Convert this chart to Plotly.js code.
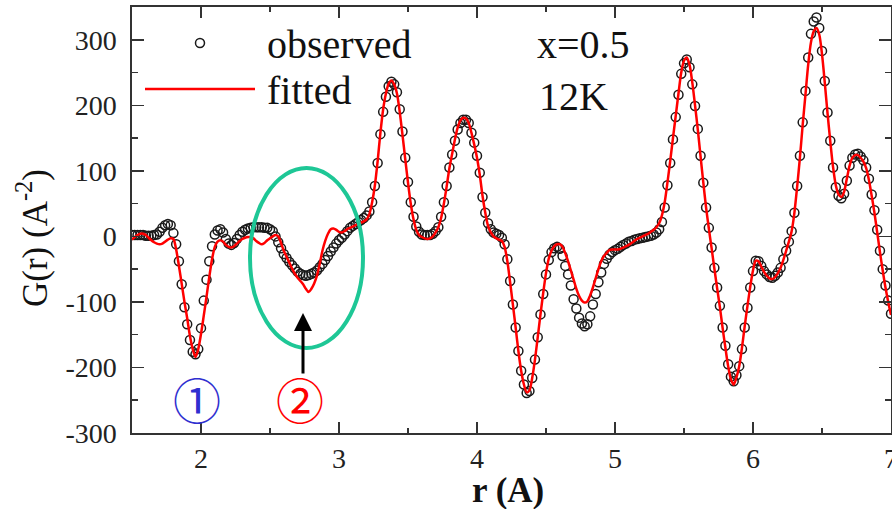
<!DOCTYPE html>
<html>
<head>
<meta charset="utf-8">
<script src="https://cdn.plot.ly/plotly-3.0.1.min.js"></script>
<style>html,body{margin:0;padding:0;background:#fff;}#chart{width:892px;height:509px;}</style>
</head>
<body>
<div id="chart"></div>
<script>
// r grid: first value and spacing (Angstrom)
const rStart = 1.5;
const rStep = 0.02;

// observed G(r) at r = 1.50, 1.52, ... 7.00
const observedG = [
  2, 2, 2, 2, 2, 1, 1, 1, 2, 3,
  7, 13, 17, 19, 17, 5, -12, -38, -73, -108,
  -134, -158, -176, -180, -172, -140, -98, -66, -38, -15,
  3, 9, 11, 6, -4, -11, -13, -10, -4, 2,
  7, 10, 12, 13, 14, 14, 14, 14, 13, 13,
  11, 8, 0, -9, -18, -27, -33, -39, -44, -49,
  -54, -57, -59, -60, -59, -57, -55, -52, -47, -42,
  -36, -30, -23, -17, -11, -6, -2, 3, 8, 13,
  16, 19, 22, 25, 28, 32, 38, 52, 77, 112,
  156, 190, 213, 229, 236, 232, 220, 194, 160, 120,
  83, 52, 30, 15, 7, 3, 2, 2, 2, 4,
  8, 14, 30, 52, 77, 105, 125, 146, 163, 173,
  178, 178, 173, 158, 143, 123, 97, 60, 36, 20,
  11, 6, 4, 2, -2, -12, -35, -68, -104, -139,
  -175, -205, -226, -239, -236, -216, -188, -154, -119, -88,
  -58, -36, -24, -18, -16, -19, -30, -45, -58, -75,
  -96, -110, -124, -133, -137, -134, -122, -104, -88, -70,
  -55, -42, -34, -28, -24, -21, -19, -16, -13, -11,
  -8, -7, -5, -4, -3, -2, -1, 0, 1, 3,
  6, 11, 22, 44, 78, 112, 148, 182, 216, 248,
  264, 270, 258, 232, 199, 164, 123, 82, 44, 13,
  -17, -48, -78, -106, -139, -167, -195, -214, -221, -212,
  -198, -172, -139, -109, -78, -53, -37, -38, -45, -53,
  -58, -62, -63, -60, -55, -48, -35, -22, -8, 8,
  36, 77, 123, 174, 222, 273, 309, 328, 334, 318,
  283, 237, 189, 146, 105, 75, 62, 58, 65, 85,
  108, 120, 125, 126, 122, 116, 105, 88, 64, 40,
  10, -22, -50, -75, -98, -118
];

// fitted G(r), same r grid
const fittedG = [
  -5, -1, 2, 4, 4, 2, -2, -6, -9, -11,
  -12, -11, -8, -5, -3, -4, -20, -45, -72, -100,
  -125, -152, -172, -184, -172, -149, -121, -92, -62, -35,
  -16, -8, -6, -8, -13, -16, -17, -15, -11, -7,
  -4, -2, -1, -1, -3, -7, -10, -12, -10, -6,
  -3, 0, 2, 0, -10, -22, -31, -40, -49, -57,
  -63, -68, -73, -80, -85, -80, -72, -60, -42, -22,
  -7, 4, 11, 12, 10, 7, 6, 8, 11, 13,
  15, 17, 19, 21, 23, 26, 34, 52, 78, 115,
  158, 194, 218, 233, 238, 232, 218, 190, 155, 118,
  82, 50, 26, 10, 2, -1, -3, -4, -3, 0,
  6, 14, 28, 50, 76, 104, 126, 148, 166, 177,
  181, 180, 173, 158, 140, 120, 94, 62, 36, 16,
  6, 0, -3, -5, -7, -16, -38, -70, -104, -139,
  -175, -205, -226, -238, -235, -216, -188, -154, -119, -86,
  -56, -34, -22, -15, -12, -12, -16, -26, -38, -52,
  -66, -80, -91, -98, -101, -99, -90, -78, -64, -50,
  -38, -30, -25, -21, -20, -20, -20, -19, -17, -15,
  -13, -10, -7, -4, -2, 0, 2, 4, 7, 10,
  14, 20, 32, 52, 82, 115, 150, 184, 218, 250,
  268, 273, 262, 235, 200, 163, 122, 82, 44, 12,
  -18, -49, -79, -108, -140, -170, -198, -218, -226, -215,
  -198, -170, -137, -106, -77, -52, -37, -38, -46, -54,
  -60, -64, -65, -62, -56, -48, -36, -22, -8, 8,
  36, 76, 120, 170, 216, 262, 296, 313, 318, 308,
  278, 235, 188, 145, 106, 78, 64, 60, 68, 88,
  108, 120, 124, 124, 120, 114, 104, 86, 62, 36,
  6, -24, -52, -78, -100, -120
];

const xTickVals = [2, 3, 4, 5, 6, 7];
const yTickVals = [-300, -200, -100, 0, 100, 200, 300];
const legendLabels = ['observed', 'fitted'];
const infoLabels = ['x=0.5', '12K'];
const markLabels = ['\u2460', '\u2461'];

// plot area in pixels
const L = 132, R = 891, T = 7, B = 433;
const px = v => (v - L) / (R - L);
const py = v => (B - v) / (B - T);

const serif = 'Liberation Serif, serif';

const traces = [
  {
    type: 'scatter', mode: 'markers', name: legendLabels[0],
    x0: rStart, dx: rStep, y: observedG,
    marker: {symbol: 'circle-open', size: 9, color: '#1a1a1a', line: {width: 1.5, color: '#1a1a1a'}},
    showlegend: false, hoverinfo: 'skip'
  },
  {
    type: 'scatter', mode: 'lines', name: legendLabels[1],
    x0: rStart, dx: rStep, y: fittedG,
    line: {color: '#ff0000', width: 2.5, shape: 'spline', smoothing: 0.8},
    showlegend: false, hoverinfo: 'skip'
  }
];

function axisCommon() {
  return {
    showgrid: false, zeroline: false, showline: true, linecolor: '#333', linewidth: 1.6,
    mirror: 'ticks', ticks: 'inside', tickcolor: '#333', tickwidth: 1.6,
    tickfont: {family: serif, size: 28, color: '#222'}, ticklabeloverflow: 'allow'
  };
}

const layout = {
  width: 892, height: 509,
  margin: {l: L, r: 892 - R, t: T, b: 509 - B},
  paper_bgcolor: '#fff', plot_bgcolor: '#fff',
  font: {family: serif, size: 28, color: '#222'},
  showlegend: false,
  xaxis: Object.assign(axisCommon(), {
    range: [1.5, 7.0], tickvals: xTickVals, ticktext: xTickVals.map(String), ticklen: 11,
    minor: {dtick: 0.5, tick0: 0, ticks: 'inside', ticklen: 5, tickcolor: '#333', tickwidth: 1.6},
    ticklabelstandoff: 0
  }),
  yaxis: Object.assign(axisCommon(), {
    range: [-300, 350], tickvals: yTickVals, ticktext: yTickVals.map(String), ticklen: 12,
    minor: {dtick: 50, tick0: 0, ticks: 'inside', ticklen: 6, tickcolor: '#333', tickwidth: 1.6},
    ticklabelstandoff: 8
  }),
  shapes: [
    // legend marker and line
    {type: 'circle', xref: 'paper', yref: 'paper', xsizemode: 'pixel', ysizemode: 'pixel',
     xanchor: px(200), yanchor: py(43), x0: -4.5, x1: 4.5, y0: -4.5, y1: 4.5,
     line: {color: '#1a1a1a', width: 1.5}},
    {type: 'line', xref: 'paper', yref: 'paper', x0: px(145), x1: px(255), y0: py(89), y1: py(89),
     line: {color: '#ff0000', width: 2.5}},
    // green ellipse
    {type: 'circle', xref: 'paper', yref: 'paper', x0: px(250), x1: px(363), y0: py(348), y1: py(168),
     line: {color: '#1ec796', width: 4}}
  ],
  annotations: [
    {xref: 'paper', yref: 'paper', x: px(265), y: py(44), xanchor: 'left', yanchor: 'middle', showarrow: false,
     text: legendLabels[0], font: {family: serif, size: 40, color: '#111'}},
    {xref: 'paper', yref: 'paper', x: px(265), y: py(90), xanchor: 'left', yanchor: 'middle', showarrow: false,
     text: legendLabels[1], font: {family: serif, size: 40, color: '#111'}},
    {xref: 'paper', yref: 'paper', x: px(535), y: py(44), xanchor: 'left', yanchor: 'middle', showarrow: false,
     text: infoLabels[0], font: {family: serif, size: 40, color: '#111'}},
    {xref: 'paper', yref: 'paper', x: px(537), y: py(96), xanchor: 'left', yanchor: 'middle', showarrow: false,
     text: infoLabels[1], font: {family: serif, size: 40, color: '#111'}},
    // circled numbers
    {xref: 'paper', yref: 'paper', x: px(197), y: py(398), xanchor: 'center', yanchor: 'middle', showarrow: false,
     text: markLabels[0], font: {family: 'Noto Sans CJK SC', size: 48, color: '#2f2fd0'}},
    {xref: 'paper', yref: 'paper', x: px(300), y: py(398), xanchor: 'center', yanchor: 'middle', showarrow: false,
     text: markLabels[1], font: {family: 'Noto Sans CJK SC', size: 48, color: '#ff0000'}},
    // arrow
    {xref: 'paper', yref: 'paper', x: px(303), y: py(313), ax: 0, ay: 62, text: '', showarrow: true,
     arrowhead: 2, arrowsize: 1.2, arrowwidth: 3, arrowcolor: '#000', standoff: 0},
    // axis titles
    {xref: 'paper', yref: 'paper', x: px(508), y: py(490.5), xanchor: 'center', yanchor: 'middle', showarrow: false,
     text: '<b>r (A)</b>', font: {family: serif, size: 35, color: '#111'}},
    {xref: 'paper', yref: 'paper', x: px(33), y: py(238), xanchor: 'center', yanchor: 'middle', showarrow: false,
     textangle: -90, text: 'G(r) (A<sup>-2</sup>)', font: {family: serif, size: 35, color: '#111'}}
  ]
};

Plotly.newPlot('chart', traces, layout, {displayModeBar: false, staticPlot: true});
</script>
</body>
</html>
